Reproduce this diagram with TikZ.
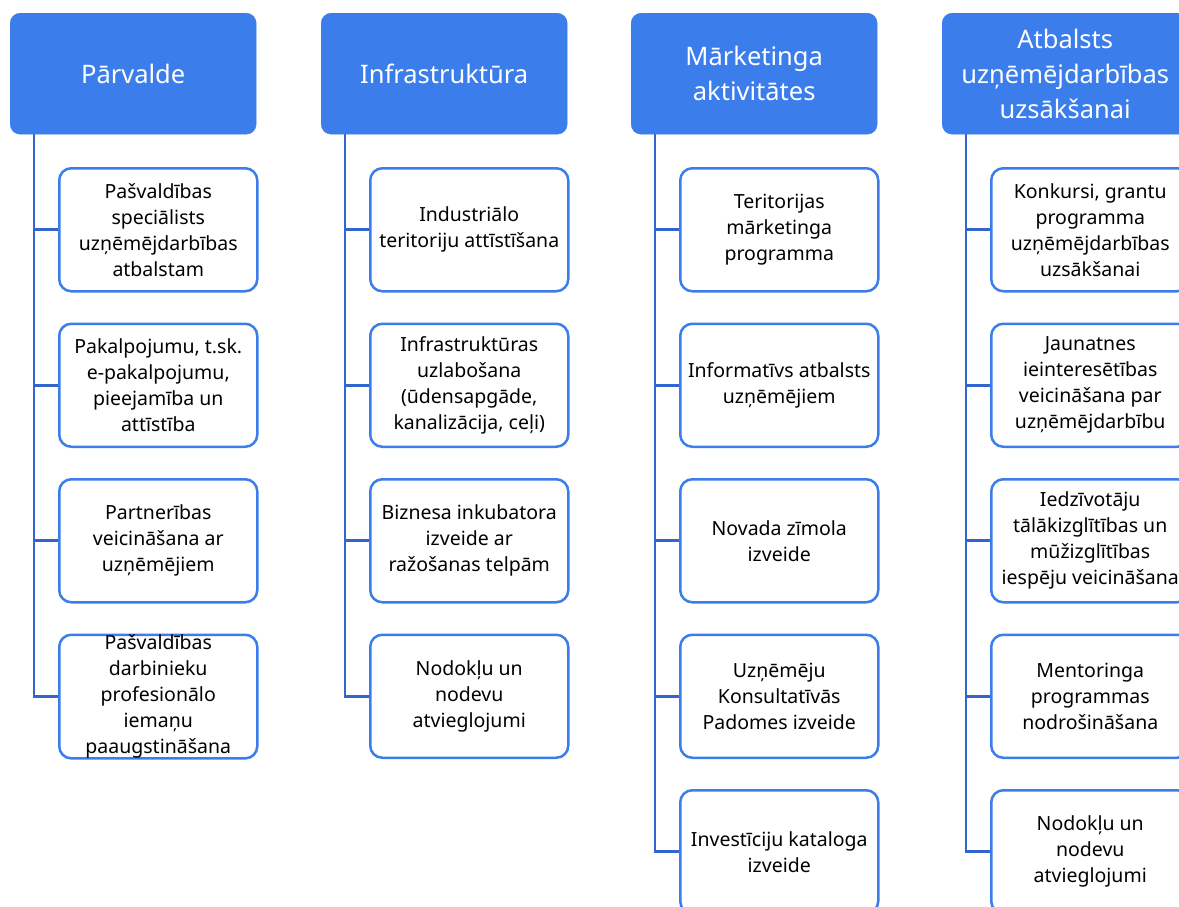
\documentclass[tikz,border=0pt]{standalone}
\usepackage{fontspec}
\setmainfont{Noto Sans}
\usetikzlibrary{positioning}
\definecolor{hdrblue}{RGB}{59,125,235}
\definecolor{linkblue}{RGB}{50,102,206}
\tikzset{
  hdr/.style={draw=hdrblue, fill=hdrblue, text=white, rounded corners=10pt,
    minimum width=246pt, minimum height=121pt, inner sep=0pt, align=center,
    anchor=north west, font=\fontsize{25.5}{35}\selectfont},
  item/.style={draw=hdrblue, line width=2.5pt, fill=white, rounded corners=12pt,
    minimum width=198pt, minimum height=123pt, inner sep=0pt, align=center,
    anchor=north west, font=\fontsize{19.5}{26}\selectfont},
  link/.style={draw=linkblue, line width=2.8pt}
}

\begin{document}
\begin{tikzpicture}[x=1pt,y=-1pt]
\useasboundingbox (0,0) rectangle (1179,906);
\clip (0,0) rectangle (1179,906);

% headers
\node[hdr] (pv)   at (10,13)  {Pārvalde};
\node[hdr] (inf)  at (321,13) {Infrastruktūra};
\node[hdr] (mark) at (631,13) {Mārketinga\\aktivitātes};
\node[hdr] (atb)  at (942,13) {Atbalsts\\uzņēmējdarbības\\uzsākšanai};

% Pārvalde
\node[item] (pv1) at (58,167)   {Pašvaldības\\speciālists\\uzņēmējdarbības\\atbalstam};
\node[item] (pv2) at (58,322.5) {Pakalpojumu, t.sk.\\e-pakalpojumu,\\pieejamība un\\attīstība};
\node[item] (pv3) at (58,478)   {Partnerības\\veicināšana ar\\uzņēmējiem};
\node[item] (pv4) at (58,633.5) {Pašvaldības\\darbinieku\\profesionālo\\iemaņu\\paaugstināšana};

% Infrastruktūra
\node[item] (inf1) at (369,167)   {Industriālo\\teritoriju attīstīšana};
\node[item] (inf2) at (369,322.5) {Infrastruktūras\\uzlabošana\\(ūdensapgāde,\\kanalizācija, ceļi)};
\node[item] (inf3) at (369,478)   {Biznesa inkubatora\\izveide ar\\ražošanas telpām};
\node[item] (inf4) at (369,633.5) {Nodokļu un\\nodevu\\atvieglojumi};

% Mārketinga aktivitātes
\node[item] (mark1) at (679,167)   {Teritorijas\\mārketinga\\programma};
\node[item] (mark2) at (679,322.5) {Informatīvs atbalsts\\uzņēmējiem};
\node[item] (mark3) at (679,478)   {Novada zīmola\\izveide};
\node[item] (mark4) at (679,633.5) {Uzņēmēju\\Konsultatīvās\\Padomes izveide};
\node[item] (mark5) at (679,789)   {Investīciju kataloga\\izveide};

% Atbalsts uzņēmējdarbības uzsākšanai
\node[item] (atb1) at (990,167)   {Konkursi, grantu\\programma\\uzņēmējdarbības\\uzsākšanai};
\node[item] (atb2) at (990,322.5) {Jaunatnes\\ieinteresētības\\veicināšana par\\uzņēmējdarbību};
\node[item] (atb3) at (990,478)   {Iedzīvotāju\\tālākizglītības un\\mūžizglītības\\iespēju veicināšana};
\node[item] (atb4) at (990,633.5) {Mentoringa\\programmas\\nodrošināšana};
\node[item] (atb5) at (990,789)   {Nodokļu un\\nodevu\\atvieglojumi};

% connectors
\foreach \c in {pv1,pv2,pv3,pv4}
  \draw[link] ([xshift=24pt]pv.south west) |- (\c.west);
\foreach \c in {inf1,inf2,inf3,inf4}
  \draw[link] ([xshift=24pt]inf.south west) |- (\c.west);
\foreach \c in {mark1,mark2,mark3,mark4,mark5}
  \draw[link] ([xshift=24pt]mark.south west) |- (\c.west);
\foreach \c in {atb1,atb2,atb3,atb4,atb5}
  \draw[link] ([xshift=24pt]atb.south west) |- (\c.west);
\end{tikzpicture}
\end{document}
